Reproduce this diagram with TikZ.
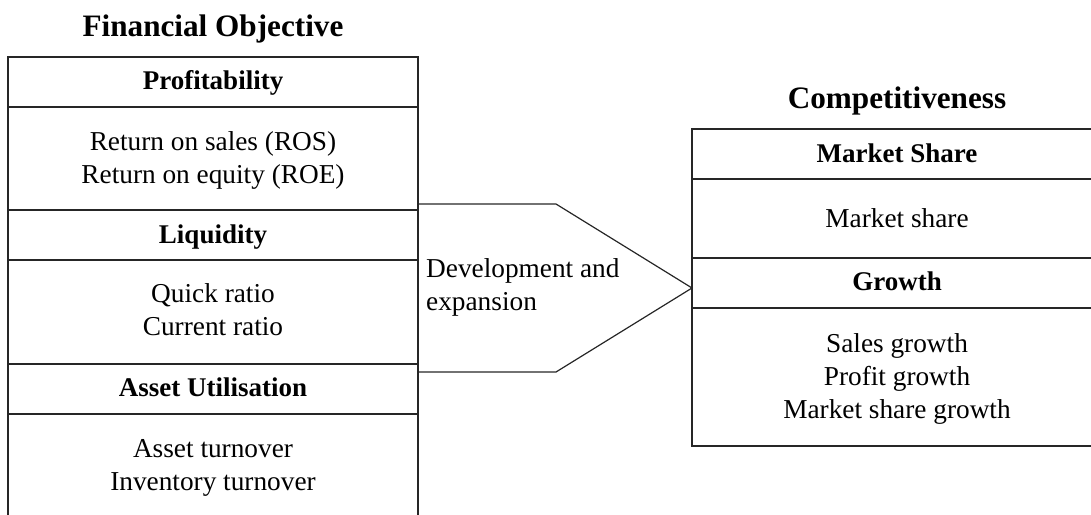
\documentclass[tikz,border=0pt]{standalone}
\usepackage{fontspec}
\setmainfont{Liberation Serif}
\tikzset{
  cell/.style={draw=black!85, line width=1.2pt, minimum width=410pt, inner sep=0pt, outer sep=0pt, anchor=north west},
  title/.style={font=\fontsize{31.2}{37}\selectfont\bfseries, anchor=base, inner sep=0pt},
  head/.style={font=\fontsize{27}{33}\selectfont\bfseries, anchor=base, inner sep=0pt},
  body/.style={font=\fontsize{27.3}{33}\selectfont, anchor=base, inner sep=0pt},
  bodyl/.style={font=\fontsize{27.3}{33}\selectfont, anchor=base west, inner sep=0pt},
  arrowline/.style={draw=black!85, line width=1.2pt, line join=miter}
}
\begin{document}
\begin{tikzpicture}[x=1pt,y=-1pt]
\useasboundingbox (0,0) rectangle (1091,514);
\clip (0,0) rectangle (1091,514);
% left column
\node[title] (t1) at (213,36) {Financial Objective};
\node[cell, minimum height=50pt] (h1) at (8,57) {};
\node[cell, minimum height=103pt] (b1) at (8,107) {};
\node[cell, minimum height=50pt] (h2) at (8,210) {};
\node[cell, minimum height=104pt] (b2) at (8,260) {};
\node[cell, minimum height=50pt] (h3) at (8,364) {};
\node[cell, minimum height=110pt] (b3) at (8,414) {};
\node[head] (h1t) at (213,89) {Profitability};
\node[body] (b1a) at (213,150) {Return on sales (ROS)};
\node[body] (b1b) at (213,183) {Return on equity (ROE)};
\node[head] (h2t) at (213,243) {Liquidity};
\node[body] (b2a) at (213,302) {Quick ratio};
\node[body] (b2b) at (213,335) {Current ratio};
\node[head] (h3t) at (213,396) {Asset Utilisation};
\node[body] (b3a) at (213,457) {Asset turnover};
\node[body] (b3b) at (213,490) {Inventory turnover};
% arrow
\coordinate (a1) at (418,204);
\coordinate (a2) at (556,204);
\coordinate (tip) at (692,288);
\coordinate (a3) at (556,372);
\coordinate (a4) at (418,372);
\draw[arrowline] (a1) -- (a2) -- (tip) -- (a3) -- (a4);
\node[bodyl] (d1) at (426,277) {Development and};
\node[bodyl] (d2) at (426,310) {expansion};
% right column
\node[title] (t2) at (897,108) {Competitiveness};
\node[cell, minimum height=50pt] (rh1) at (692,129) {};
\node[cell, minimum height=79pt] (rb1) at (692,179) {};
\node[cell, minimum height=50pt] (rh2) at (692,258) {};
\node[cell, minimum height=138pt] (rb2) at (692,308) {};
\node[head] (rh1t) at (897,162) {Market Share};
\node[body] (rb1a) at (897,227) {Market share};
\node[head] (rh2t) at (897,290) {Growth};
\node[body] (rb2a) at (897,352) {Sales growth};
\node[body] (rb2b) at (897,385) {Profit growth};
\node[body] (rb2c) at (897,418) {Market share growth};
\end{tikzpicture}
\end{document}
